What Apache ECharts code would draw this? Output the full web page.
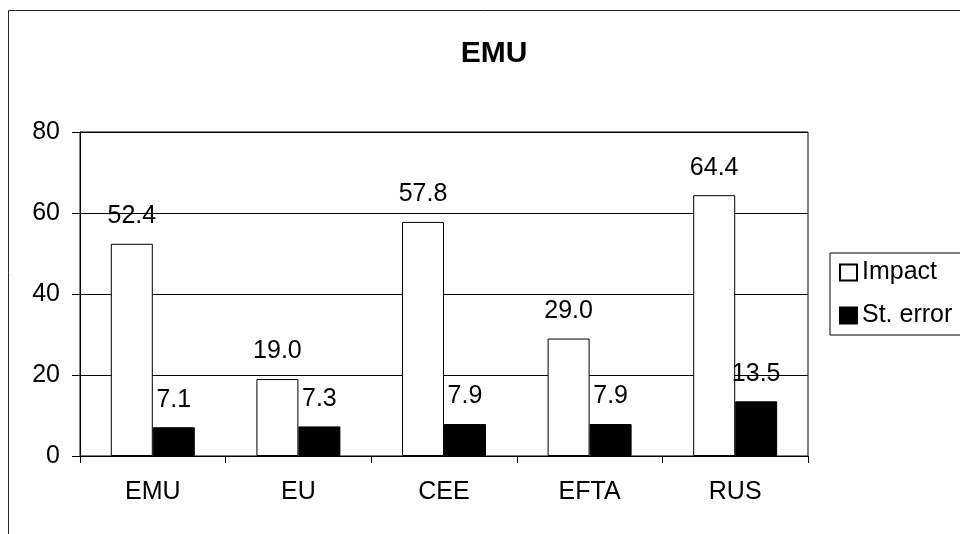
<!DOCTYPE html>
<html>
<head>
<meta charset="utf-8">
<script src="https://cdn.jsdelivr.net/npm/echarts@6/dist/echarts.min.js"></script>
<style>
  html, body { margin: 0; padding: 0; background: #fff; }
  #main { width: 960px; height: 534px; }
</style>
</head>
<body>
<div id="main"></div>
<script>
// chart data
const categories = ["EMU", "EU", "CEE", "EFTA", "RUS"];
const impact = [52.4, 19.0, 57.8, 29.0, 64.4];
const stError = [7.1, 7.3, 7.9, 7.9, 13.5];
const yTicks = { min: 0, max: 80, interval: 20 };

const FONT = "Liberation Sans";

const chart = echarts.init(document.getElementById("main"));

const labelOpt = {
  show: true,
  position: "top",
  distance: 15,
  color: "#000",
  fontFamily: FONT,
  fontSize: 25,
  formatter: (p) => p.value.toFixed(1)
};

const option = {
  backgroundColor: "#fff",
  animation: false,
  // outer chart frame (runs off the right/bottom edge like the original)
  graphic: [
    {
      type: "rect",
      shape: { x: 8.5, y: 10.5, width: 1200, height: 800 },
      style: { fill: "none", stroke: "#222", lineWidth: 1 },
      z: -10
    }
  ],
  title: {
    text: "EMU",
    left: 489,
    top: 34,
    textAlign: "center",
    textStyle: { fontFamily: FONT, fontSize: 30, fontWeight: "bold", color: "#000" }
  },
  legend: {
    orient: "vertical",
    left: 830,
    top: 253,
    padding: [7, 40, 7, 9],
    borderColor: "#000",
    borderWidth: 1,
    itemWidth: 17,
    itemHeight: 16,
    itemGap: 18,
    icon: "rect",
    textStyle: { fontFamily: FONT, fontSize: 25, color: "#000", lineHeight: 25 },
    data: ["Impact", "St. error"]
  },
  grid: {
    left: 80,
    top: 132,
    right: 152,
    bottom: 78,
    show: true,
    borderColor: "#000",
    borderWidth: 1,
    backgroundColor: "#fff"
  },
  xAxis: {
    type: "category",
    data: categories,
    axisLine: { show: true, lineStyle: { color: "#000", width: 1 } },
    axisTick: { show: true, length: 7, alignWithLabel: false, lineStyle: { color: "#000" } },
    axisLabel: { margin: 24, color: "#000", fontFamily: FONT, fontSize: 25 },
    splitLine: { show: false }
  },
  yAxis: {
    type: "value",
    min: yTicks.min,
    max: yTicks.max,
    interval: yTicks.interval,
    axisLine: { show: true, lineStyle: { color: "#000", width: 1 } },
    axisTick: { show: true, length: 8, lineStyle: { color: "#000" } },
    axisLabel: { margin: 20, color: "#000", fontFamily: FONT, fontSize: 25 },
    splitLine: { show: true, lineStyle: { color: "#000", width: 1 } }
  },
  series: [
    {
      name: "Impact",
      type: "bar",
      data: impact,
      barWidth: 42,
      barGap: "0%",
      itemStyle: { color: "#fff", borderColor: "#000", borderWidth: 1 },
      label: labelOpt
    },
    {
      name: "St. error",
      type: "bar",
      data: stError,
      barWidth: 42,
      itemStyle: { color: "#000", borderColor: "#000", borderWidth: 1 },
      label: labelOpt
    }
  ]
};

chart.setOption(option);
</script>
</body>
</html>
